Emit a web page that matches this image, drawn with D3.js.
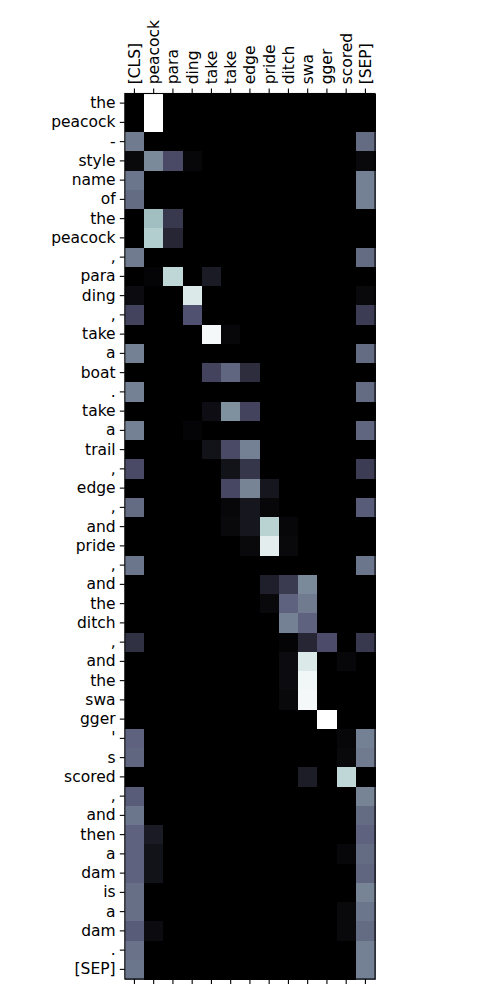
<!DOCTYPE html>
<html>
<head>
<meta charset="utf-8">
<script src="https://cdn.jsdelivr.net/npm/d3@7"></script>
<style>
  body { margin: 0; background: #fff; }
  .vis { width: 500px; height: 1000px; }
</style>
</head>
<body>
<div class="vis"></div>
<script>
(function() {
  'use strict';

  var colLabels = ['[CLS]', 'peacock', 'para', 'ding', 'take', 'take', 'edge',
    'pride', 'ditch', 'swa', 'gger', 'scored', '[SEP]'];

  var rowLabels = ['the', 'peacock', '-', 'style', 'name', 'of', 'the', 'peacock',
    ',', 'para', 'ding', ',', 'take', 'a', 'boat', '.', 'take', 'a', 'trail', ',',
    'edge', ',', 'and', 'pride', ',', 'and', 'the', 'ditch', ',', 'and', 'the',
    'swa', 'gger', "'", 's', 'scored', ',', 'and', 'then', 'a', 'dam', 'is', 'a',
    'dam', '.', '[SEP]'];

  // attention weights, one row per token, 13 columns
  var weights = [
    [0, 1.00, 0, 0, 0, 0, 0, 0, 0, 0, 0, 0, 0],
    [0, 1.00, 0, 0, 0, 0, 0, 0, 0, 0, 0, 0, 0],
    [0.50, 0, 0, 0, 0, 0, 0, 0, 0, 0, 0, 0, 0.45],
    [0.04, 0.55, 0.33, 0.03, 0, 0, 0, 0, 0, 0, 0, 0, 0.04],
    [0.48, 0, 0, 0, 0, 0, 0, 0, 0, 0, 0, 0, 0.52],
    [0.45, 0, 0, 0, 0, 0, 0, 0, 0, 0, 0, 0, 0.52],
    [0, 0.72, 0.25, 0, 0, 0, 0, 0, 0, 0, 0, 0, 0],
    [0, 0.78, 0.17, 0, 0, 0, 0, 0, 0, 0, 0, 0, 0],
    [0.50, 0, 0, 0, 0, 0, 0, 0, 0, 0, 0, 0, 0.45],
    [0, 0.02, 0.82, 0, 0.12, 0, 0, 0, 0, 0, 0, 0, 0],
    [0.05, 0, 0, 0.90, 0, 0, 0, 0, 0, 0, 0, 0, 0.04],
    [0.30, 0, 0, 0.36, 0, 0, 0, 0, 0, 0, 0, 0, 0.27],
    [0, 0, 0, 0, 0.97, 0.03, 0, 0, 0, 0, 0, 0, 0],
    [0.52, 0, 0, 0, 0, 0, 0, 0, 0, 0, 0, 0, 0.45],
    [0, 0, 0, 0, 0.30, 0.43, 0.20, 0, 0, 0, 0, 0, 0],
    [0.52, 0, 0, 0, 0, 0, 0, 0, 0, 0, 0, 0, 0.45],
    [0, 0, 0, 0, 0.06, 0.57, 0.30, 0, 0, 0, 0, 0, 0],
    [0.52, 0, 0, 0.02, 0, 0, 0, 0, 0, 0, 0, 0, 0.43],
    [0, 0, 0, 0, 0.08, 0.33, 0.52, 0, 0, 0, 0, 0, 0],
    [0.33, 0, 0, 0, 0, 0.08, 0.24, 0, 0, 0, 0, 0, 0.27],
    [0, 0, 0, 0, 0, 0.32, 0.53, 0.10, 0, 0, 0, 0, 0],
    [0.45, 0, 0, 0, 0, 0.03, 0.10, 0.03, 0, 0, 0, 0, 0.40],
    [0, 0, 0, 0, 0, 0.04, 0.10, 0.80, 0.03, 0, 0, 0, 0],
    [0, 0, 0, 0, 0, 0, 0.04, 0.92, 0.04, 0, 0, 0, 0],
    [0.48, 0, 0, 0, 0, 0, 0, 0, 0, 0, 0, 0, 0.48],
    [0, 0, 0, 0, 0, 0, 0, 0.14, 0.26, 0.55, 0, 0, 0],
    [0, 0, 0, 0, 0, 0, 0, 0.04, 0.42, 0.50, 0, 0, 0],
    [0, 0, 0, 0, 0, 0, 0, 0, 0.52, 0.42, 0, 0, 0],
    [0.22, 0, 0, 0, 0, 0, 0, 0, 0.02, 0.17, 0.34, 0, 0.25],
    [0, 0, 0, 0, 0, 0, 0, 0, 0.05, 0.90, 0, 0.03, 0],
    [0, 0, 0, 0, 0, 0, 0, 0, 0.05, 0.96, 0, 0, 0],
    [0, 0, 0, 0, 0, 0, 0, 0, 0.04, 0.97, 0, 0, 0],
    [0, 0, 0, 0, 0, 0, 0, 0, 0, 0, 1.00, 0, 0],
    [0.42, 0, 0, 0, 0, 0, 0, 0, 0, 0, 0, 0.03, 0.52],
    [0.43, 0, 0, 0, 0, 0, 0, 0, 0, 0, 0, 0.04, 0.50],
    [0, 0, 0, 0, 0, 0, 0, 0, 0, 0.13, 0, 0.82, 0],
    [0.40, 0, 0, 0, 0, 0, 0, 0, 0, 0, 0, 0, 0.53],
    [0.48, 0, 0, 0, 0, 0, 0, 0, 0, 0, 0, 0, 0.45],
    [0.42, 0.12, 0, 0, 0, 0, 0, 0, 0, 0, 0, 0, 0.42],
    [0.42, 0.08, 0, 0, 0, 0, 0, 0, 0, 0, 0, 0.03, 0.45],
    [0.42, 0.08, 0, 0, 0, 0, 0, 0, 0, 0, 0, 0, 0.43],
    [0.46, 0, 0, 0, 0, 0, 0, 0, 0, 0, 0, 0, 0.53],
    [0.46, 0, 0, 0, 0, 0, 0, 0, 0, 0, 0, 0.04, 0.48],
    [0.40, 0.05, 0, 0, 0, 0, 0, 0, 0, 0, 0, 0.04, 0.45],
    [0.47, 0, 0, 0, 0, 0, 0, 0, 0, 0, 0, 0, 0.52],
    [0.48, 0, 0, 0, 0, 0, 0, 0, 0, 0, 0, 0, 0.52]
  ];

  var cell = 19.25,
    margin = {top: 93.5, left: 124.8},
    width = cell * colLabels.length,
    height = cell * rowLabels.length;

  var svg = d3.select('.vis').append('svg')
      .attr('width', 500)
      .attr('height', 1000)
    .append('g')
      .attr('transform', 'translate(' + margin.left + ',' + margin.top + ')');

  var x = d3.scaleBand().domain(d3.range(colLabels.length)).range([0, width]);
  var y = d3.scaleBand().domain(d3.range(rowLabels.length)).range([0, height]);

  // matplotlib "bone" colormap
  var bone = d3.scaleLinear()
    .domain([0, 0.365079, 0.746032, 1])
    .range([d3.rgb(0, 0, 0), d3.rgb(81.5, 81.5, 113.3), d3.rgb(166.5, 198.3, 198.3), d3.rgb(255, 255, 255)])
    .interpolate(d3.interpolateRgb)
    .clamp(true);

  var cells = [];
  weights.forEach(function(row, i) {
    row.forEach(function(v, j) { cells.push({r: i, c: j, v: v}); });
  });

  svg.append('g')
      .attr('shape-rendering', 'crispEdges')
    .selectAll('.cell')
    .data(cells)
    .enter().append('rect')
      .attr('class', 'cell')
      .attr('x', function(d) { return x(d.c); })
      .attr('y', function(d) { return y(d.r); })
      .attr('width', x.bandwidth() + 0.5)
      .attr('height', y.bandwidth() + 0.5)
      .attr('fill', function(d) { return bone(d.v); });

  svg.append('rect')
    .attr('width', width)
    .attr('height', height)
    .attr('fill', 'none')
    .attr('stroke', '#000')
    .attr('stroke-width', 1.1);

  var tickLen = 5, pad = 4.2, fontSize = '15.5px';

  var topAxis = svg.append('g')
    .call(d3.axisTop(x).tickSize(tickLen).tickPadding(pad)
      .tickFormat(function(i) { return colLabels[i]; }));
  topAxis.selectAll('text')
    .attr('transform', 'rotate(-90)')
    .attr('x', tickLen + pad)
    .attr('y', 0)
    .attr('dy', '0.35em')
    .style('text-anchor', 'start');

  var bottomAxis = svg.append('g')
    .attr('transform', 'translate(0,' + height + ')')
    .call(d3.axisBottom(x).tickSize(tickLen).tickFormat(function() { return ''; }));

  var leftAxis = svg.append('g')
    .call(d3.axisLeft(y).tickSize(tickLen).tickPadding(pad)
      .tickFormat(function(i) { return rowLabels[i]; }));

  [topAxis, bottomAxis, leftAxis].forEach(function(ax) {
    ax.select('.domain').remove();
    ax.selectAll('text')
      .style('font-size', fontSize)
      .style('font-family', '"DejaVu Sans", sans-serif')
      .style('fill', '#000');
    ax.selectAll('line').attr('stroke', '#000').attr('stroke-width', 1.1);
  });

}());
</script>
</body>
</html>
